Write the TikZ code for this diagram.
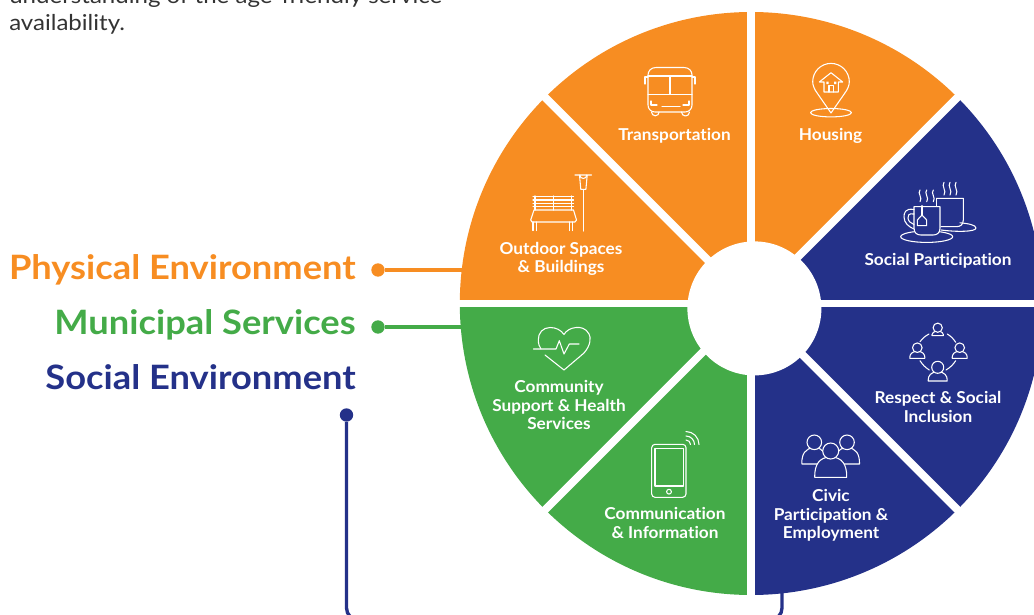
\documentclass[tikz,border=0pt]{standalone}
\usepackage{fontspec}
\setmainfont{Lato}[FakeStretch=1.08,Ligatures=NoCommon]
\newfontfamily\lblfont{Lato}[FakeStretch=1.05,Ligatures=NoCommon]
\newfontfamily\introfont{Lato}[FakeStretch=1.10,Ligatures=NoCommon]
\definecolor{orangeA}{HTML}{F78D22}
\definecolor{greenA}{HTML}{44AB48}
\definecolor{navyA}{HTML}{243189}
\definecolor{greyA}{HTML}{333333}
\newcommand{\pxfont}[2]{\fontsize{#1}{#2}\selectfont}
% person icon: cx, head y, head r, half width, bottom y, fill
\newcommand{\personicon}[6]{%
  \pgfmathsetmacro{\pl}{#1-#4}\pgfmathsetmacro{\pr}{#1+#4}%
  \pgfmathsetmacro{\pt}{#2+#3*0.75}%
  \pgfmathsetmacro{\plc}{#1-#4*0.75}\pgfmathsetmacro{\prc}{#1+#4*0.75}%
  \pgfmathsetmacro{\pm}{#2+#3+(#5-#2-#3)*0.35}%
  \draw[iconline,fill=#6] (\pl,#5) -- (\pl,#5-1) .. controls (\pl,\pm) and (\plc,\pt) .. (#1,\pt) .. controls (\prc,\pt) and (\pr,\pm) .. (\pr,#5-1) -- (\pr,#5) -- cycle;
  \draw[iconline,fill=#6] (#1,#2) circle[radius=#3];
}
\tikzset{
  iconline/.style={draw=white,line width=0.8pt,line cap=round,line join=round},
  seclabel/.style={text=white,align=center,font=\lblfont\pxfont{12.3}{14}\bfseries,inner sep=0pt},
  biglabel/.style={anchor=base east,inner sep=0pt,font=\pxfont{25.2}{30}\bfseries},
  introtext/.style={anchor=base west,inner sep=0pt,text=greyA,font=\introfont\pxfont{16.4}{20}},
  dotnode/.style={circle,inner sep=0pt,minimum size=10pt},
  wire/.style={line width=2.8pt},
  gap/.style={draw=white,line width=5.9pt},
}
\begin{document}
\begin{tikzpicture}[x=0.75pt,y=-0.75pt]
\useasboundingbox (0,0) rectangle (1034,614);
\clip (0,0) rectangle (1034,614);
\coordinate (C) at (751.3,303.5);
\coordinate (H) at (754.4,308.4);
\def\Rout{291.5}

% connectors
\node[dotnode,fill=orangeA] (dotP) at (378,270) {};
\node[dotnode,fill=greenA] (dotM) at (378,327) {};
\node[dotnode,fill=navyA] (dotS) at (346.5,415) {};
\coordinate (endP) at (470,270);
\coordinate (endM) at (470,327);
\coordinate (endS) at (782,590);
\draw[wire,orangeA] (dotP) -- (endP);
\draw[wire,greenA] (dotM) -- (endM);
\draw[wire,navyA,line width=2.5pt,rounded corners=9pt] (dotS) -- (346.5,620) -- (782,620) -- (endS);

% wheel
\fill[orangeA] (C) -- ++(180:\Rout) arc[start angle=180,end angle=315,radius=\Rout] -- cycle;
\fill[navyA] (C) -- ++(315:\Rout) arc[start angle=315,end angle=450,radius=\Rout] -- cycle;
\fill[greenA] (C) -- ++(90:\Rout) arc[start angle=90,end angle=180,radius=\Rout] -- cycle;
\foreach \a in {0,45,90,135}
  \draw[gap] (C) ++(\a:300) -- ++(\a+180:600);
\fill[white] (H) circle[radius=67];

% intro text
\node[introtext] (introA) at (9,3) {understanding of the age-friendly service};
\node[introtext] (introB) at (9,30) {availability.};

% legend
\node[biglabel,text=orangeA] (lblP) at (356,279) {Physical Environment};
\node[biglabel,text=greenA] (lblM) at (356,334) {Municipal Services};
\node[biglabel,text=navyA] (lblS) at (356,389) {Social Environment};

% segment labels
\node[seclabel] (tTrans) at (674.5,135.5) {Transportation};
\node[seclabel] (tHous) at (830.5,135.5) {Housing};
\node[seclabel] (tOut) at (561,259) {Outdoor Spaces\\\& Buildings};
\node[seclabel] (tSoc) at (938,260.5) {Social Participation};
\node[seclabel] (tRes) at (938,407) {Respect \& Social\\Inclusion};
\node[seclabel] (tCiv) at (831,515.5) {Civic\\Participation \&\\Employment};
\node[seclabel] (tCom) at (559,405) {Community\\Support \& Health\\Services};
\node[seclabel] (tInf) at (665,523) {Communication\\\& Information};

% bus
\draw[iconline] (656,67.5) -- (684,67.5) .. controls (689,67.5) and (692,71) .. (692,75) -- (692,105) .. controls (692,109) and (689,112) .. (685,112) -- (655,112) .. controls (651,112) and (648,109) .. (648,105) -- (648,75) .. controls (648,71) and (651,67.5) .. (656,67.5) -- cycle;
\draw[iconline] (648,76) -- (692,76) (670,76) -- (670,94.5) (648,94.5) -- (692,94.5);
\draw[iconline] (648,77) -- (645,77) -- (645,84) (692,77) -- (695,77) -- (695,84);
\draw[iconline] (651,101) -- (651,105) -- (657,105) (689,101) -- (689,105) -- (683,105) (662,106.5) -- (680,106.5);
\draw[iconline] (651.5,112) arc[start angle=180,end angle=0,radius=3.8] (681.5,112) arc[start angle=180,end angle=0,radius=4];

% bench and lamp
\foreach \yy in {196.7,200,203.3,206.7} \draw[iconline] (533,\yy) -- (573.5,\yy);
\foreach \xx in {535,553.3,571.7} \draw[iconline] (\xx,196) -- (\xx,210);
\draw[iconline] (534,210) -- (573.5,210) -- (576.5,220) -- (575,222) -- (532,222) -- (530.7,220) -- cycle;
\draw[iconline] (533,222) -- (533,230.5) (536.3,222) -- (536.3,230.5) (569.5,222) -- (569.5,230.5) (572.8,222) -- (572.8,230.5);
\draw[iconline] (583.3,189.5) -- (583.3,231);
\draw[iconline] (575,175) -- (591.7,175) (579.5,175) -- (580.8,189.3) -- (585.9,189.3) -- (587.2,175);
\draw[iconline] (579.8,175) arc[start angle=180,end angle=0,radius=3.5];

% housing pin
\draw[iconline] (831,113) -- (817.8,94) .. controls (814,89) and (812.7,85) .. (812.7,81.7) arc[start angle=180,end angle=360,radius=18.3] .. controls (849.3,85) and (848,89) .. (844.2,94) -- cycle;
\draw[iconline] (831,112.7) ellipse[x radius=20.5,y radius=4.2];
\draw[iconline] (819.3,82) -- (831,72.7) -- (842.7,82) -- (838.3,82) -- (838.3,92) -- (824,92) -- (824,82) -- cycle;
\draw[iconline] (829,92) -- (829,85.5) -- (833.5,85.5) -- (833.5,92);
\fill[white] (826.3,81.5) rectangle (828.6,84) (834,81.5) rectangle (836.3,84);

% cups
\draw[iconline] (941,230) .. controls (956,232) and (976,232) .. (976,228) .. controls (976,225) and (968,223.5) .. (960,222.8);
\draw[iconline] (936.7,198.3) -- (963.3,198.3) -- (963.3,220) .. controls (963.3,225) and (960,226.7) .. (956,226.7) -- (941,226.7);
\draw[iconline] (936.7,198.3) -- (936.7,206);
\draw[iconline] (926.7,236.7) ellipse[x radius=26,y radius=5.7];
\draw[iconline,fill=navyA] (914,206.7) -- (940,206.7) -- (940,228) .. controls (940,233) and (937,235) .. (933,235) -- (921,235) .. controls (917,235) and (914,233) .. (914,228) -- cycle;
\draw[iconline] (914,209.5) .. controls (905,208) and (904,213) .. (904,217) .. controls (904,223) and (909,227) .. (914,229);
\draw[iconline] (914,214) .. controls (908,213) and (908,216) .. (908,218) .. controls (908,221) and (911,223.5) .. (914,224.5);
\draw[iconline] (922,205.7) -- (922,215);
\draw[iconline] (922,215) -- (926.7,220) -- (926.7,225.7) -- (917.3,225.7) -- (917.3,220) -- cycle;
\foreach \xx in {920,926.7,933.3}
  \draw[iconline,line width=0.8pt] (\xx,190) .. controls (\xx-3,193) and (\xx+3,198) .. (\xx,201.7);
\foreach \xx in {944,950,956}
  \draw[iconline,line width=0.8pt] (\xx,182.3) .. controls (\xx-3,186) and (\xx+3,191) .. (\xx,195);

% heart
\draw[iconline] (545,355) -- (564,370) -- (584,353) .. controls (591,345) and (591,337) .. (589,334) .. controls (586,328) and (580,327) .. (576,327.5) .. controls (570,328) and (566,331) .. (564,334.5) .. controls (561,330) and (556,327.5) .. (550,327.5) .. controls (543,327.5) and (538,333) .. (538.3,340) .. controls (538.3,344) and (539.5,347) .. (541,349);
\draw[iconline] (533.3,349) -- (556,349) -- (559.3,340.7) -- (564,354) -- (569.3,344) -- (579,344);

% phone
\draw[iconline,rounded corners=2.5pt] (651.7,444.3) rectangle (686,497.3);
\draw[iconline] (655,448.3) rectangle (683.3,486);
\draw[iconline] (669,491.7) circle[radius=2.4];
\draw[iconline] (686,440) arc[start angle=270,end angle=360,radius=4.5];
\draw[iconline] (686,436) arc[start angle=270,end angle=360,radius=8.5];
\draw[iconline] (686,431.5) arc[start angle=270,end angle=360,radius=13];

% respect circle
\personicon{937.7}{327.7}{4.6}{5.7}{335.7}{navyA}
\personicon{917.3}{347.7}{4.8}{7.5}{358.3}{navyA}
\personicon{959.7}{347.7}{4.8}{7.5}{358.3}{navyA}
\personicon{937.7}{367.3}{6}{9.5}{381}{navyA}
\draw[iconline] (920,341.7) to[bend left=12] (929,334);
\draw[iconline] (947.3,334) to[bend left=12] (955.7,342.3);
\draw[iconline] (955.7,360.7) to[bend left=12] (946,370);
\draw[iconline] (929.3,370) to[bend left=12] (920,360.7);

% civic people
\personicon{814.3}{442.3}{7.3}{12.5}{464}{navyA}
\personicon{847}{442.3}{7.3}{12.5}{464}{navyA}
\personicon{830.7}{451}{8}{16}{477.3}{navyA}
\end{tikzpicture}
\end{document}
